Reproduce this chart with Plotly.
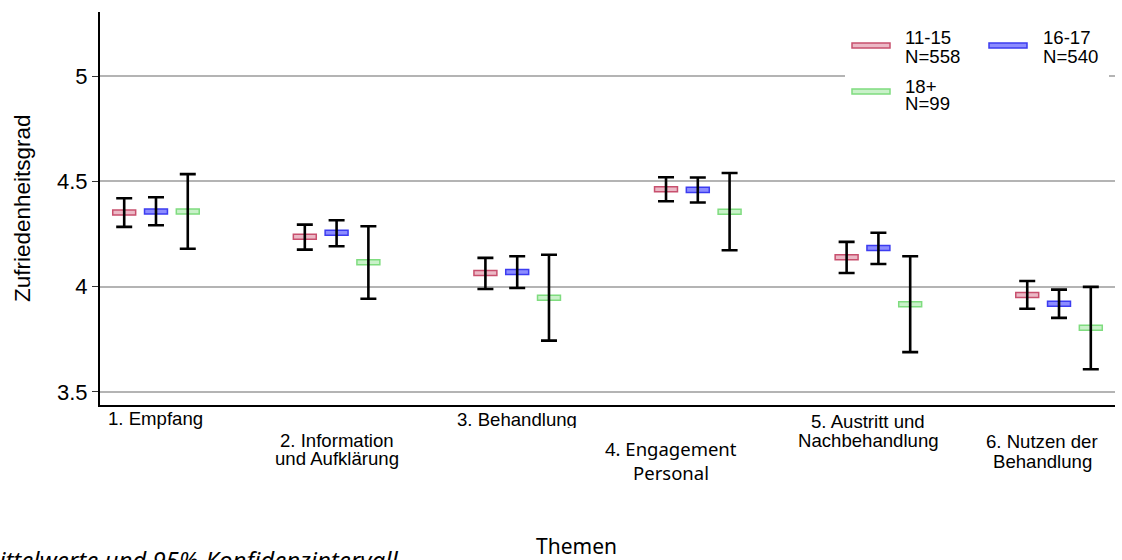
import plotly.graph_objects as go

# ---- data -------------------------------------------------------------
tick_lines = [
    ["1. Empfang"],
    ["2. Information", "und Aufklärung"],
    ["3. Behandlung"],
    ["4. Engagement", "Personal"],
    ["5. Austritt und", "Nachbehandlung"],
    ["6. Nutzen der", "Behandlung"],
]
groups = ["11-15", "16-17", "18+"]
counts = [558, 540, 99]

mean_11_15 = [4.352, 4.237, 4.065, 4.463, 4.140, 3.960]
low_11_15 = [4.284, 4.176, 3.989, 4.406, 4.065, 3.895]
high_11_15 = [4.420, 4.295, 4.137, 4.520, 4.213, 4.027]

mean_16_17 = [4.357, 4.256, 4.070, 4.460, 4.184, 3.919]
low_16_17 = [4.292, 4.192, 3.994, 4.400, 4.108, 3.852]
high_16_17 = [4.425, 4.316, 4.145, 4.519, 4.256, 3.986]

mean_18 = [4.357, 4.116, 3.948, 4.356, 3.917, 3.805]
low_18 = [4.180, 3.943, 3.744, 4.173, 3.689, 3.608]
high_18 = [4.535, 4.287, 4.152, 4.540, 4.145, 3.999]

y_ticks = [3.5, 4, 4.5, 5]

# ---- styling ----------------------------------------------------------
W, H = 1122, 560
M_L, M_R, M_T, M_B = 100, 7, 12, 155
PLOT_W = W - M_L - M_R
PLOT_H = H - M_T - M_B

ARIAL = "Arial, Liberation Sans, sans-serif"
NOTO = "Noto Sans, Open Sans, sans-serif"

fills = ["#ebb9c6", "#8c8cff", "#c9f1c9"]
borders = ["#c8506e", "#3c3cf0", "#7fdc7f"]
offsets = [-0.176, 0.0, 0.176]
box_w = 0.127      # width of mean marker (x units)
box_h = 0.0238     # height of mean marker (y units)

means = [mean_11_15, mean_16_17, mean_18]
lows = [low_11_15, low_16_17, low_18]
highs = [high_11_15, high_16_17, high_18]


def px_x(px):
    return (px - M_L) / PLOT_W


def px_y(py):
    return (H - M_B - py) / PLOT_H


fig = go.Figure()

# mean markers as thin boxes
for s in range(len(groups)):
    xs = [i + offsets[s] for i in range(len(tick_lines))]
    fig.add_trace(go.Bar(
        x=xs, y=[box_h] * len(xs),
        base=[m - box_h / 2 for m in means[s]],
        width=box_w,
        marker=dict(color=fills[s], line=dict(color=borders[s], width=1.5)),
        name=groups[s], showlegend=False, hoverinfo="skip",
    ))

# 95% confidence intervals
for s in range(len(groups)):
    xs = [i + offsets[s] for i in range(len(tick_lines))]
    fig.add_trace(go.Scatter(
        x=xs, y=means[s], mode="markers",
        marker=dict(color="rgba(0,0,0,0)", size=2),
        error_y=dict(
            type="data", symmetric=False,
            array=[h - m for h, m in zip(highs[s], means[s])],
            arrayminus=[m - l for m, l in zip(means[s], lows[s])],
            color="black", thickness=2.6, width=8,
        ),
        showlegend=False, hoverinfo="skip",
    ))

annotations = []
shapes = []

# category labels below the axis (staggered rows)
label_shift = [0, 0, 0, -27, -10, -17]
label_rows = [[418.3], [440, 458.5], [None], [449, 472.5], [422, 440], [441.7, 461.7]]
for i, lines in enumerate(tick_lines):
    font = dict(family=NOTO if i == 3 else ARIAL, size=18.6 if i != 3 else 18.5, color="black")
    for line, ymid in zip(lines, label_rows[i]):
        if ymid is None:
            # bottom of this label is cut off by its box
            annotations.append(dict(
                x=i, xref="x", xshift=label_shift[i], y=px_y(406.5), yref="paper",
                text=line, showarrow=False, xanchor="center", yanchor="top",
                height=19, valign="top", font=font,
            ))
        else:
            annotations.append(dict(
                x=i, xref="x", xshift=label_shift[i], y=px_y(ymid), yref="paper",
                text=line, showarrow=False, xanchor="center", yanchor="middle",
                font=font,
            ))

# axis titles and note
annotations.append(dict(
    x=px_x(22.5), xref="paper", y=0.5, yref="paper", text="Zufriedenheitsgrad",
    textangle=-90, showarrow=False, xanchor="center", yanchor="middle",
    font=dict(family=ARIAL, size=22.5, color="black"),
))
annotations.append(dict(
    x=px_x(576), xref="paper", y=px_y(546), yref="paper", text="Themen",
    showarrow=False, xanchor="center", yanchor="middle",
    font=dict(family=NOTO, size=21, color="black"),
))
annotations.append(dict(
    x=px_x(400), xref="paper", y=px_y(559), yref="paper",
    text="<i>Mittelwerte und 95%-Konfidenzintervall</i>",
    showarrow=False, xanchor="right", yanchor="middle",
    font=dict(family=NOTO, size=24, color="black"),
))

# legend
shapes.append(dict(type="rect", xref="paper", yref="paper",
                   x0=px_x(845), x1=px_x(1109), y0=px_y(114), y1=px_y(26),
                   fillcolor="white", line=dict(width=0), layer="above"))
legend_pos = [(852, 45.5, 903, 37.7, 56.7),
              (989, 45.5, 1041, 37.7, 56.7),
              (852, 91.5, 903, 86.0, 103.3)]
for s, (rx, ry, tx, t1, t2) in enumerate(legend_pos):
    shapes.append(dict(type="rect", xref="paper", yref="paper",
                       x0=px_x(rx), x1=px_x(rx + 38), y0=px_y(ry + 2.5), y1=px_y(ry - 2.5),
                       fillcolor=fills[s], line=dict(color=borders[s], width=1.5), layer="above"))
    for txt, ym in ((groups[s], t1), (f"N={counts[s]}", t2)):
        annotations.append(dict(
            x=px_x(tx), xref="paper", y=px_y(ym), yref="paper", text=txt,
            showarrow=False, xanchor="left", yanchor="middle",
            font=dict(family=ARIAL, size=18.6, color="black"),
        ))

fig.update_layout(
    width=W, height=H,
    margin=dict(l=M_L, r=M_R, t=M_T, b=M_B, pad=0),
    paper_bgcolor="white", plot_bgcolor="white",
    barmode="overlay", showlegend=False,
    annotations=annotations, shapes=shapes,
    xaxis=dict(
        range=[-0.31, 5.31], showgrid=False, zeroline=False,
        showticklabels=False, ticks="",
        showline=True, linecolor="black", linewidth=2.2,
    ),
    yaxis=dict(
        range=[3.438, 5.305], tickvals=y_ticks, ticktext=[f"{v:g}" for v in y_ticks],
        showgrid=True, gridcolor="#b4b4b4", gridwidth=1.5, zeroline=False,
        ticks="outside", ticklen=6, tickwidth=1.2, tickcolor="#333333",
        showline=True, linecolor="black", linewidth=2.2,
        tickfont=dict(family=ARIAL, size=22, color="black"),
    ),
)

fig.write_html("out.html")
